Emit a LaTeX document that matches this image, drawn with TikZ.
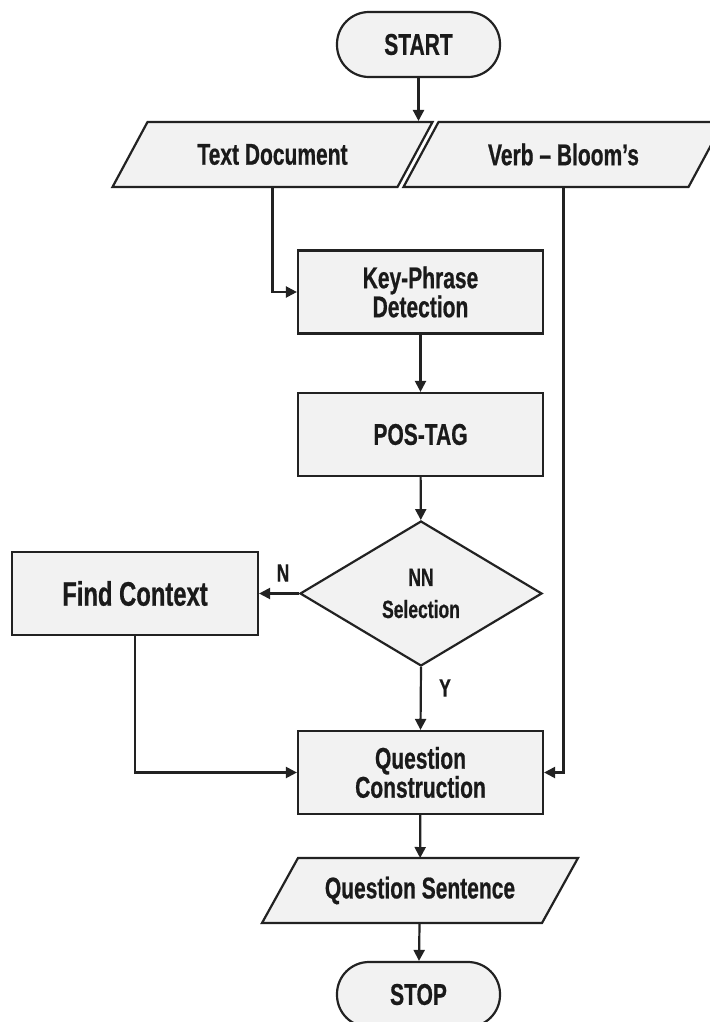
\documentclass[tikz,border=0pt]{standalone}
\usepackage{fontspec}
\setmainfont{Liberation Sans}[FakeStretch=0.7,FakeBold=0.6]
\usetikzlibrary{shapes.geometric,arrows.meta,backgrounds}
\definecolor{boxfill}{HTML}{F2F2F2}
\definecolor{edgecol}{HTML}{222222}
\definecolor{ink}{HTML}{1A1A1A}
\tikzset{
 base/.style={draw=edgecol, fill=boxfill, line width=2.2pt, inner sep=0pt, text=ink,
   font=\fontsize{30}{29}\selectfont\bfseries, align=center},
 procbox/.style={base, rectangle, minimum width=245pt, minimum height=83pt},
 termbox/.style={base, rectangle, rounded corners=32pt, minimum width=163pt, minimum height=65pt},
 decis/.style={base, diamond, minimum width=242pt, minimum height=145pt,
   font=\fontsize{25}{32}\selectfont\bfseries},
 iotext/.style={rectangle, inner sep=0pt, outer sep=0pt, minimum height=65pt, minimum width=285pt,
   text=ink, font=\fontsize{30}{29}\selectfont\bfseries, align=center},
 ioshape/.style={draw=edgecol, fill=boxfill, line width=2.2pt, line join=miter},
 conn/.style={draw=edgecol, line width=2.2pt, -{Triangle[length=11pt,width=11pt]}},
 lbl/.style={text=ink, font=\fontsize{25}{25}\selectfont\bfseries, inner sep=0pt}
}
\newcommand\pgramshape[2]{%
 \draw[ioshape] ([xshift=#2]#1.north west) -- ([xshift=#2]#1.north east)
   -- ([xshift=-#2]#1.south east) -- ([xshift=-#2]#1.south west) -- cycle;}
\begin{document}
\begin{tikzpicture}[x=1pt,y=-1pt]
\useasboundingbox (0,0) rectangle (709,1022);
% nodes
\node[termbox] (start) at (418.5,44.5) {START};
\node[iotext] (td) at (272.5,154.5) {Text Document};
\node[iotext] (vb) at (563.5,154.5) {Verb -- Bloom's};
\node[procbox] (kp) at (420.5,292) {Key-Phrase\\Detection};
\node[procbox] (pos) at (420.5,434.5) {POS-TAG};
\node[decis] (nn) at (421,593.5) {NN\\Selection};
\node[procbox, minimum width=246pt, font=\fontsize{34}{35}\selectfont\bfseries] (fc) at (135,593.5) {Find Context};
\node[procbox] (qc) at (420.5,772.5) {Question\\Construction};
\node[iotext, minimum width=280pt] (qs) at (420,890.5) {Question Sentence};
\node[termbox] (stop) at (418.5,994.5) {STOP};
\coordinate (sa) at (418.5,121);
% labels
\node[lbl] (nlab) at (283,573) {N};
\node[lbl] (ylab) at (445,688) {Y};
% parallelogram outlines
\begin{scope}[on background layer]
 \pgramshape{td}{17.5pt}
 \pgramshape{vb}{17.5pt}
 \pgramshape{qs}{18pt}
\end{scope}
% connectors
\draw[conn] (start) -- (sa);
\draw[conn] (td.south) |- (kp.west);
\draw[conn] (kp) -- (pos);
\draw[conn] (pos) -- (nn);
\draw[conn] (nn.west) -- (fc.east);
\draw[conn] (nn.south) -- (qc.north);
\draw[conn] (fc.south) |- (qc.west);
\draw[conn] (vb.south) |- (qc.east);
\draw[conn] (qc) -- (qs);
\draw[conn] (qs) -- (stop);
\end{tikzpicture}
\end{document}
